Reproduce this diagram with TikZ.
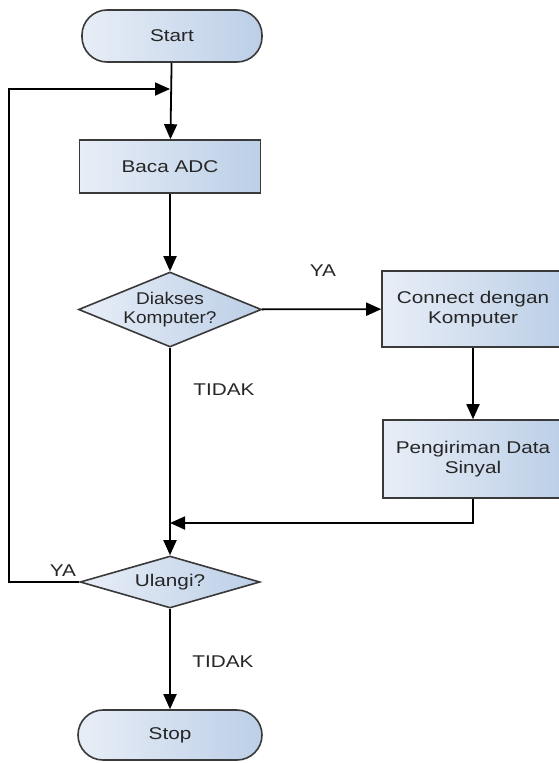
\documentclass[tikz,border=0pt]{standalone}
\usepackage{fontspec}
\setmainfont{Liberation Sans}[FakeStretch=1.22]
\newfontfamily\diafont{Liberation Sans}[FakeStretch=1.12]
\usetikzlibrary{shapes.geometric,arrows.meta}
\definecolor{fillA}{HTML}{E8EEF7}
\definecolor{fillB}{HTML}{BCCFE7}
\definecolor{edgeC}{HTML}{3A3A3A}
\definecolor{txtC}{HTML}{262626}
\tikzset{
  base/.style={draw=edgeC, line width=1.6pt, left color=fillA, right color=fillB,
    text=txtC, font=\fontsize{17}{20}\selectfont, align=center, inner sep=0pt},
  term/.style={base, rectangle, rounded corners=25pt},
  procbox/.style={base, rectangle},
  decis/.style={base, diamond, aspect=2.4},
  conn/.style={line width=1.8pt, draw=black, -{Triangle[length=15pt,width=13pt]}},
  lbl/.style={text=txtC, font=\fontsize{17}{20}\selectfont, inner sep=0pt}
}
\begin{document}
\begin{tikzpicture}[x=1pt,y=-1pt]
\useasboundingbox (0,0) rectangle (559,763);
\clip (0,0) rectangle (559,763);
\node[term, minimum width=180pt, minimum height=52pt] (start) at (172,36) {Start};
\node[procbox, minimum width=181pt, minimum height=53pt] (baca) at (170,166.5) {Baca ADC};
\node[decis, minimum width=183pt, minimum height=75pt, font=\diafont\fontsize{17}{19}\selectfont] (diakses) at (170,309.5) {Diakses\\Komputer?};
\node[procbox, minimum width=182pt, minimum height=76pt] (connect) at (473,309) {Connect dengan\\Komputer};
\node[procbox, minimum width=180pt, minimum height=78pt] (kirim) at (473,459) {Pengiriman Data\\Sinyal};
\node[decis, minimum width=180pt, minimum height=52pt] (ulangi) at (170,582) {Ulangi?};
\node[term, minimum width=184pt, minimum height=50pt] (stop) at (170,735) {Stop};

\coordinate (j) at (170,89);
\coordinate (l2) at (9,89);
\coordinate (m) at (170,523);

\draw[conn] (start) -- (baca);
\draw[conn] (baca) -- (diakses);
\draw[conn] (diakses) -- (connect);
\draw[conn] (connect.south -| kirim.south) -- (kirim);
\draw[conn] (diakses) -- (ulangi);
\draw[conn] (kirim.south) -- (kirim.south |- m) -- (m);
\draw[conn] (ulangi.west) -- (ulangi.west -| l2) -- (l2) -- (j);
\draw[conn] (ulangi) -- (stop);

\node[lbl] (ya1) at (323,271) {YA};
\node[lbl] (tidak1) at (224,390) {TIDAK};
\node[lbl] (ya2) at (63,571) {YA};
\node[lbl] (tidak2) at (223,662) {TIDAK};
\end{tikzpicture}
\end{document}
